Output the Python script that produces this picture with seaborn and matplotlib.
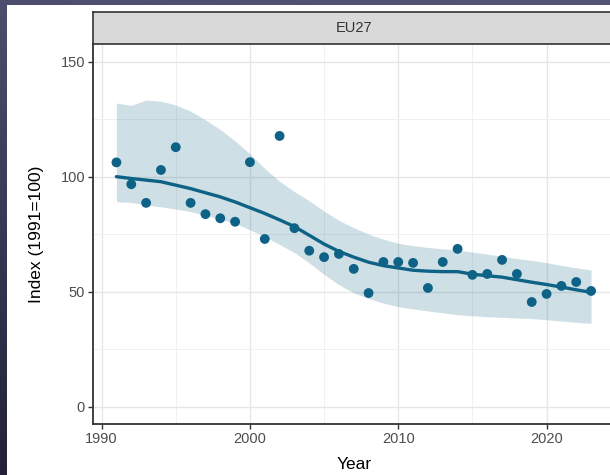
import numpy as np
import pandas as pd
import matplotlib
matplotlib.use("Agg")
import matplotlib.pyplot as plt
from matplotlib.patches import Rectangle
import seaborn as sns

# Observed index values (1991 = 100), EU27
years = list(range(1991, 2024))
index_values = [106.2, 96.7, 88.6, 102.9, 112.8, 88.6, 83.7, 81.9, 80.4, 106.3,
                72.9, 117.7, 77.6, 67.8, 65.0, 66.4, 59.9, 49.4, 62.9, 62.9,
                62.5, 51.6, 62.9, 68.6, 57.3, 57.7, 63.8, 57.7, 45.5, 49.0,
                52.5, 54.2, 50.3]

# Smoothed trend and its confidence band
trend = [100.0, 99.2, 98.5, 97.8, 96.3, 94.8, 93.0, 91.2, 89.0, 86.5,
         84.0, 81.2, 78.3, 74.5, 70.7, 67.5, 65.0, 62.8, 61.3, 60.3,
         59.3, 58.9, 58.7, 58.7, 57.6, 56.9, 56.3, 55.2, 54.1, 53.1,
         52.0, 50.8, 49.7]
trend_upper = [132.0, 131.0, 133.3, 132.8, 131.2, 128.5, 124.7, 120.5, 115.5, 110.0,
               103.5, 98.0, 93.5, 89.5, 85.0, 81.0, 77.8, 75.0, 72.8, 71.0,
               70.0, 69.2, 68.6, 68.1, 67.2, 66.3, 65.4, 64.4, 63.6, 62.6,
               61.4, 60.4, 59.4]
trend_lower = [89.1, 88.8, 87.7, 86.9, 85.9, 84.8, 83.2, 81.5, 79.7, 76.9,
               73.9, 70.5, 67.0, 62.5, 57.5, 53.0, 49.5, 47.0, 45.0, 43.5,
               42.5, 41.6, 40.8, 40.0, 39.5, 39.1, 38.8, 38.5, 38.3, 37.8,
               37.2, 36.7, 36.2]

df = pd.DataFrame({"Year": years, "Index": index_values,
                   "Trend": trend, "Lower": trend_lower, "Upper": trend_upper})

sns.set_theme(style="white")
plt.rcParams["font.family"] = ["Liberation Sans", "DejaVu Sans"]

W, H = 610, 475
fig = plt.figure(figsize=(W / 100, H / 100), dpi=100)

# dark slide background with a white card on top
bg = fig.add_axes([0, 0, 1, 1], zorder=-10)
gy = np.linspace(0, 1, 200)[:, None]
gx = np.linspace(0, 1, 200)[None, :]
top_c = np.array([0x55, 0x55, 0x78]) / 255
bot_c = np.array([0x22, 0x21, 0x38]) / 255
t = np.clip(gy * 0.85 + (1 - gx) * 0.15, 0, 1)[..., None]
grad = top_c * (1 - t) + bot_c * t
bg.imshow(grad, extent=[0, 1, 0, 1], aspect="auto", origin="upper")
bg.add_patch(Rectangle((7 / W, 0), 1, (H - 5) / H, color="white", lw=0))
bg.set_xlim(0, 1)
bg.set_ylim(0, 1)
bg.axis("off")

# panel
left, right = 92.7, 614.8
top, bottom = 44.4, 423.9
ax = fig.add_axes([left / W, 1 - bottom / H, (right - left) / W, (bottom - top) / H])
ax.set_facecolor("white")

main_col = "#0e6285"
ax.fill_between(df["Year"], df["Lower"], df["Upper"], color=main_col, alpha=0.2, lw=0, zorder=2)
sns.lineplot(data=df, x="Year", y="Trend", ax=ax, color=main_col, lw=2.4, zorder=3)
sns.scatterplot(data=df, x="Year", y="Index", ax=ax, color=main_col, s=50,
                edgecolor="none", zorder=4)

ax.set_xlim(1989.4, 2024.6)
ax.set_ylim(-7.5, 157.5)
ax.set_xticks([1990, 2000, 2010, 2020])
ax.set_yticks([0, 50, 100, 150])
ax.set_xticks([1995, 2005, 2015], minor=True)
ax.set_yticks([25, 75, 125], minor=True)
ax.grid(True, which="major", color="#e6e6e6", lw=1.0, zorder=0)
ax.grid(True, which="minor", color="#f0f0f0", lw=0.7, zorder=0)
ax.set_axisbelow(True)

for s in ["top", "right"]:
    ax.spines[s].set_visible(False)
for s in ["left", "bottom"]:
    ax.spines[s].set_color("#333333")
    ax.spines[s].set_linewidth(1.3)

ax.tick_params(axis="both", which="major", direction="out", length=3.5, width=1.0,
               color="#333333", labelsize=10.5, labelcolor="#4d4d4d", pad=2,
               left=True, bottom=True)
ax.tick_params(axis="both", which="minor", length=0)
ax.set_xlabel("Year", fontsize=12.5, color="black", labelpad=8)
ax.set_ylabel("Index (1991=100)", fontsize=12.5, color="black", labelpad=12)

# facet strip
strip_top = 12
sax = fig.add_axes([left / W, 1 - top / H, (right - left) / W, (top - strip_top) / H])
sax.set_facecolor("#d9d9d9")
sax.set_xticks([])
sax.set_yticks([])
for s in sax.spines.values():
    s.set_color("#333333")
    s.set_linewidth(1.2)
sax.text(0.5, 0.5, "EU27", ha="center", va="center", fontsize=10.5,
         color="#333333", transform=sax.transAxes)

fig.savefig("out.png", dpi=100)
